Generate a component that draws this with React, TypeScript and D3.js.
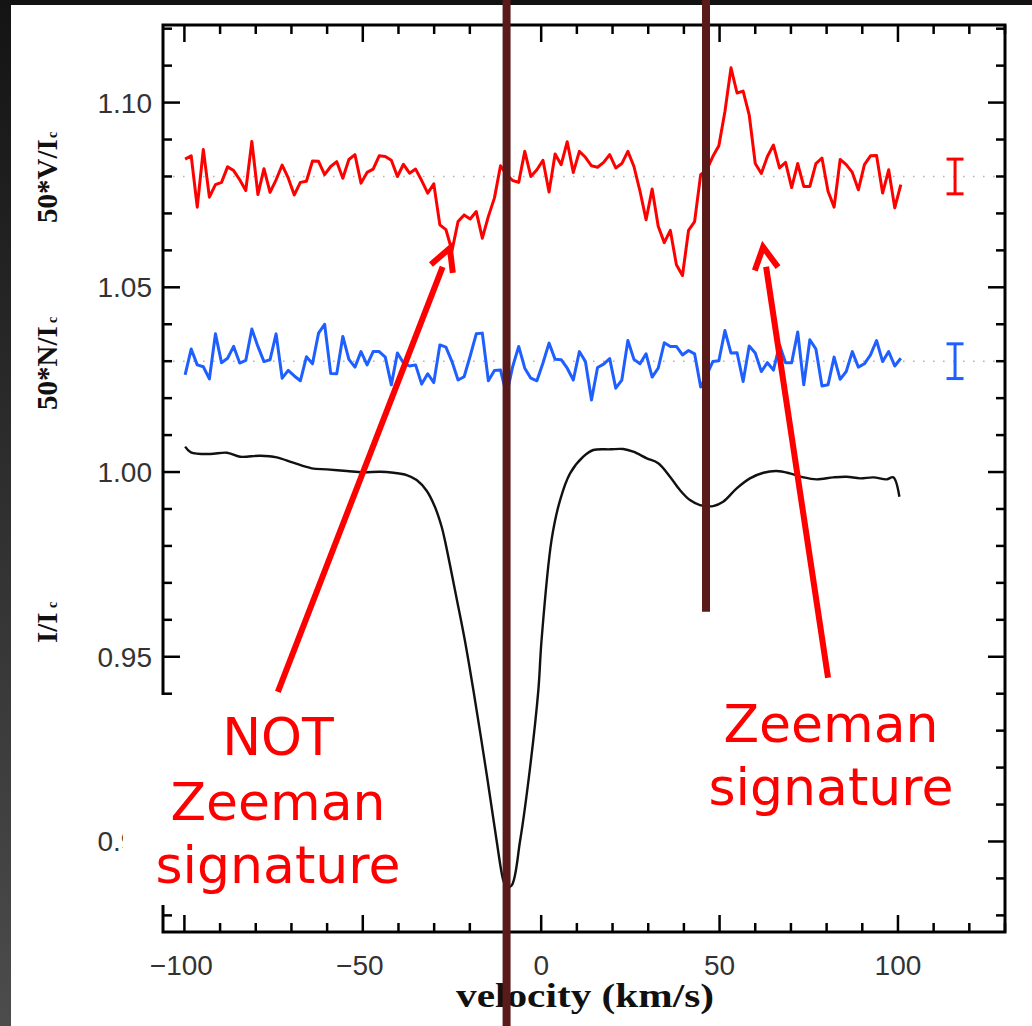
import React from "react";
import * as d3 from "d3";

// ---------- data ----------
const velocity = [
  -99.8, -98.1, -96.4, -94.7, -93.0, -91.3, -89.6, -87.9, -86.2, -84.5,
  -82.8, -81.1, -79.4, -77.7, -76.0, -74.3, -72.6, -70.9, -69.2, -67.5,
  -65.8, -64.1, -62.4, -60.7, -59.0, -57.3, -55.6, -53.9, -52.2, -50.5,
  -48.8, -47.1, -45.4, -43.7, -42.0, -40.3, -38.6, -36.9, -35.2, -33.5,
  -31.8, -30.1, -28.4, -26.7, -25.0, -23.3, -21.6, -19.9, -18.2, -16.5,
  -14.8, -13.1, -11.4, -9.7, -8.0, -6.3, -4.6, -2.9, -1.2, 0.5,
  2.2, 3.9, 5.6, 7.3, 9.0, 10.7, 12.4, 14.1, 15.8, 17.5,
  19.2, 20.9, 22.6, 24.3, 26.0, 27.7, 29.4, 31.1, 32.8, 34.5,
  36.2, 37.9, 39.6, 41.3, 43.0, 44.7, 46.4, 48.1, 49.8, 51.5,
  53.2, 54.9, 56.6, 58.3, 60.0, 61.7, 63.4, 65.1, 66.8, 68.5,
  70.2, 71.9, 73.6, 75.3, 77.0, 78.7, 80.4, 82.1, 83.8, 85.5,
  87.2, 88.9, 90.6, 92.3, 94.0, 95.7, 97.4, 99.1, 100.8,
];

// 50*V/Ic shifted to 1.08
const stokesV = [
  1.0847, 1.0856, 1.0717, 1.0873, 1.0744, 1.0778, 1.0784, 1.0826, 1.0816, 1.0791,
  1.0762, 1.0895, 1.0751, 1.0821, 1.0757, 1.0791, 1.0831, 1.0796, 1.0750, 1.0784,
  1.0787, 1.0842, 1.0841, 1.0805, 1.0827, 1.0840, 1.0795, 1.0846, 1.0859, 1.0782,
  1.0811, 1.0820, 1.0856, 1.0854, 1.0844, 1.0800, 1.0833, 1.0809, 1.0820, 1.0789,
  1.0755, 1.0780, 1.0669, 1.0656, 1.0599, 1.0678, 1.0696, 1.0685, 1.0705, 1.0633,
  1.0692, 1.0742, 1.0829, 1.0805, 1.0789, 1.0784, 1.0868, 1.0800, 1.0818, 1.0844,
  1.0758, 1.0861, 1.0832, 1.0894, 1.0811, 1.0868, 1.0852, 1.0829, 1.0825, 1.0838,
  1.0859, 1.0823, 1.0835, 1.0868, 1.0827, 1.0760, 1.0683, 1.0766, 1.0665, 1.0621,
  1.0654, 1.0561, 1.0532, 1.0654, 1.0678, 1.0805, 1.0818, 1.0854, 1.0883, 1.0976,
  1.1094, 1.1026, 1.1031, 1.0967, 1.0835, 1.0808, 1.0854, 1.0885, 1.0823, 1.0838,
  1.0770, 1.0835, 1.0773, 1.0773, 1.0835, 1.0850, 1.0760, 1.0717, 1.0846, 1.0832,
  1.0811, 1.0764, 1.0832, 1.0856, 1.0857, 1.0755, 1.0818, 1.0715, 1.0778,
];

// 50*N/Ic shifted to 1.03
const nullN = [
  1.0263, 1.0333, 1.0290, 1.0285, 1.0252, 1.0374, 1.0296, 1.0308, 1.0340, 1.0295,
  1.0302, 1.0387, 1.0340, 1.0299, 1.0304, 1.0374, 1.0254, 1.0275, 1.0260, 1.0247,
  1.0312, 1.0293, 1.0376, 1.0400, 1.0267, 1.0266, 1.0367, 1.0305, 1.0284, 1.0326,
  1.0290, 1.0326, 1.0326, 1.0311, 1.0236, 1.0322, 1.0295, 1.0287, 1.0290, 1.0238,
  1.0266, 1.0242, 1.0344, 1.0338, 1.0299, 1.0249, 1.0258, 1.0314, 1.0374, 1.0376,
  1.0247, 1.0275, 1.0276, 1.0209, 1.0285, 1.0340, 1.0281, 1.0254, 1.0247, 1.0295,
  1.0349, 1.0305, 1.0304, 1.0281, 1.0249, 1.0326, 1.0299, 1.0195, 1.0283, 1.0292,
  1.0307, 1.0227, 1.0249, 1.0356, 1.0305, 1.0293, 1.0320, 1.0257, 1.0281, 1.0350,
  1.0340, 1.0340, 1.0317, 1.0329, 1.0320, 1.0230, 1.0263, 1.0299, 1.0301, 1.0383,
  1.0322, 1.0323, 1.0245, 1.0341, 1.0322, 1.0272, 1.0296, 1.0276, 1.0344, 1.0296,
  1.0296, 1.0379, 1.0236, 1.0358, 1.0333, 1.0233, 1.0236, 1.0311, 1.0251, 1.0272,
  1.0326, 1.0284, 1.0293, 1.0317, 1.0356, 1.0299, 1.0326, 1.0287, 1.0308,
];

// Stokes I / Ic
const intensityVel = [
  -99.8, -98.2, -92.8, -88.1, -84.4, -78.8, -74.1, -69.5, -64.3, -60.1,
  -54.5, -49.9, -45.2, -41.4, -37.7, -34.9, -32.1, -29.8, -27.9, -27.0,
  -23.6, -21.4, -19.0, -15.3, -12.5, -10.6, -9.7, -8.3, -5.9, -3.1,
  -0.8, 0.1, 2.9, 5.3, 8.1, 11.8, 14.6, 19.3, 23.0, 25.8,
  29.6, 32.8, 36.1, 38.9, 41.7, 44.5, 48.2, 51.0, 54.8, 58.5,
  62.3, 66.0, 69.7, 73.5, 77.2, 81.9, 85.6, 89.4, 93.1, 96.8,
  98.7, 100.4,
];
const intensity = [
  1.00686, 1.00534, 1.00488, 1.00523, 1.00415, 1.00442, 1.00398, 1.00252, 1.00100, 1.00073,
  1.00027, 0.99992, 1.00008, 0.99981, 0.99919, 0.99783, 0.99493, 0.99060, 0.98518, 0.98157,
  0.96531, 0.95447, 0.94092, 0.91835, 0.90027, 0.88943, 0.88762, 0.88808, 0.90027, 0.92014,
  0.94092, 0.95447, 0.98157, 0.99241, 0.99965, 1.00415, 1.00596, 1.00615, 1.00623, 1.00550,
  1.00371, 1.00236, 0.99873, 0.99512, 0.99241, 0.99106, 0.99079, 0.99195, 0.99558, 0.99829,
  0.99981, 1.00027, 0.99965, 0.99856, 0.99802, 0.99856, 0.99873, 0.99829, 0.99856, 0.99802,
  0.99856, 0.99331,
];

const zeroLevels = [1.08, 1.03];
const errorBarVelocity = 116;
const errorBarHalf = 0.0047;

const xMajorTicks = [-100, -50, 0, 50, 100];
const xMajorLabels = ["\u2212100", "\u221250", "0", "50", "100"];
const yMajorTicks = [0.9, 0.95, 1.0, 1.05, 1.1];
const yMajorLabels = ["0.90", "0.95", "1.00", "1.05", "1.10"];

const markerVelocities = [-9.7, 46.2];

// ---------- layout ----------
const W = 1032;
const H = 1026;
const F = { left: 163, right: 1005, top: 25, bottom: 932 };
const X_DOMAIN = [-106, 130];
const Y_DOMAIN = [0.8755, 1.121];

const xScale = d3.scaleLinear().domain(X_DOMAIN).range([F.left, F.right]);
const yScale = d3.scaleLinear().domain(Y_DOMAIN).range([F.bottom, F.top]);

const xMinor = d3.range(-100, 131, 10);
const yMinor = d3.range(88, 113).map((d) => d / 100);

const RED = "#ff0000";
const BLUE = "#1f5fff";
const MAROON = "#5a1a1a";

function arrowPath(tail: [number, number], tip: [number, number]) {
  const dx = tip[0] - tail[0];
  const dy = tip[1] - tail[1];
  const len = Math.hypot(dx, dy);
  const ux = dx / len;
  const uy = dy / len;
  const wing = 25;
  const ang = (28 * Math.PI) / 180;
  const bx = -ux;
  const by = -uy;
  const w1 = [
    tip[0] + wing * (bx * Math.cos(ang) - by * Math.sin(ang)),
    tip[1] + wing * (bx * Math.sin(ang) + by * Math.cos(ang)),
  ];
  const w2 = [
    tip[0] + wing * (bx * Math.cos(-ang) - by * Math.sin(-ang)),
    tip[1] + wing * (bx * Math.sin(-ang) + by * Math.cos(-ang)),
  ];
  const shaftEnd = [tip[0] - ux * 20, tip[1] - uy * 20];
  return {
    shaft: `M${tail[0]},${tail[1]}L${shaftEnd[0]},${shaftEnd[1]}`,
    head: `M${w1[0]},${w1[1]}L${tip[0]},${tip[1]}L${w2[0]},${w2[1]}`,
  };
}

const arrows = [
  { tail: [-73.8, 0.9405], tip: [-25.6, 1.0606] },
  { tail: [80.4, 0.9443], tip: [62.2, 1.0609] },
];

export default function App() {
  const line = d3
    .line<[number, number]>()
    .x((d) => xScale(d[0]))
    .y((d) => yScale(d[1]));
  const smooth = d3
    .line<[number, number]>()
    .x((d) => xScale(d[0]))
    .y((d) => yScale(d[1]))
    .curve(d3.curveCatmullRom.alpha(0.5));

  const vPts = velocity.map((v, i) => [v, stokesV[i]] as [number, number]);
  const nPts = velocity.map((v, i) => [v, nullN[i]] as [number, number]);
  const iPts = intensityVel.map((v, i) => [v, intensity[i]] as [number, number]);

  const tickStroke = 2.5;
  const major = 17;
  const minor = 9;

  return (
    <svg
      width={W}
      height={H}
      style={{ position: "absolute", left: 0, top: 0, background: "#ffffff" }}
    >
      <defs>
        <linearGradient id="leftStrip" x1="0" y1="0" x2="0" y2="1">
          <stop offset="0" stopColor="#141414" />
          <stop offset="1" stopColor="#4c4c4c" />
        </linearGradient>
      </defs>
      <rect x={0} y={0} width={W} height={H} fill="#ffffff" />
      <rect x={0} y={0} width={W} height={5} fill="#121212" />
      <rect x={0} y={0} width={11} height={H} fill="url(#leftStrip)" />

      {/* zero-level dotted lines */}
      {zeroLevels.map((z) => (
        <line
          key={z}
          x1={F.left}
          x2={F.right}
          y1={yScale(z)}
          y2={yScale(z)}
          stroke="#b4b4b4"
          strokeWidth={1.6}
          strokeDasharray="1.6 8.4"
        />
      ))}

      {/* frame */}
      <rect
        x={F.left}
        y={F.top}
        width={F.right - F.left}
        height={F.bottom - F.top}
        fill="none"
        stroke="#000"
        strokeWidth={3}
      />
      {/* x ticks */}
      {xMinor.map((t) => {
        const x = xScale(t);
        const len = t % 50 === 0 ? major : minor;
        return (
          <g key={"xt" + t} stroke="#000" strokeWidth={tickStroke}>
            <line x1={x} x2={x} y1={F.bottom} y2={F.bottom - len} />
            <line x1={x} x2={x} y1={F.top} y2={F.top + len} />
          </g>
        );
      })}
      {/* y ticks */}
      {yMinor.map((t) => {
        const y = yScale(t);
        const isMajor = Math.round(t * 100) % 5 === 0;
        const len = isMajor ? major : minor;
        return (
          <g key={"yt" + t} stroke="#000" strokeWidth={tickStroke}>
            <line x1={F.left} x2={F.left + len} y1={y} y2={y} />
            <line x1={F.right} x2={F.right - len} y1={y} y2={y} />
          </g>
        );
      })}

      {/* tick labels */}
      {xMajorTicks.map((t, i) => (
        <text
          key={"xl" + t}
          x={xScale(t) - (t < 0 ? 3 : 0)}
          y={975}
          textAnchor="middle"
          fontFamily="Liberation Sans, Arial, sans-serif"
          fontSize={28}
          fill="#333"
        >
          {xMajorLabels[i]}
        </text>
      ))}
      {yMajorTicks.map((t, i) => (
        <text
          key={"yl" + t}
          x={152}
          y={yScale(t) + 10}
          textAnchor="end"
          fontFamily="Liberation Sans, Arial, sans-serif"
          fontSize={28}
          fill="#333"
        >
          {yMajorLabels[i]}
        </text>
      ))}

      {/* axis titles */}
      <g fontFamily="Liberation Serif, Times New Roman, serif" fontWeight="bold" fill="#111">
        <g transform="translate(57,223) rotate(-90)">
          <text x={0} y={0} fontSize={29}>50*V/I</text>
          <text x={85} y={0} fontSize={14}>c</text>
        </g>
        <g transform="translate(57,410) rotate(-90)">
          <text x={0} y={0} fontSize={29}>50*N/I</text>
          <text x={87} y={0} fontSize={14}>c</text>
        </g>
        <g transform="translate(57,643) rotate(-90)">
          <text x={0} y={0} fontSize={29}>I/I</text>
          <text x={35} y={0} fontSize={14}>c</text>
        </g>
        <text
          x={456}
          y={1007}
          fontSize={33}
          textLength={258}
          lengthAdjust="spacingAndGlyphs"
        >
          velocity (km/s)
        </text>
      </g>

      {/* data */}
      <path d={line(nPts) || ""} fill="none" stroke={BLUE} strokeWidth={3} strokeLinejoin="round" />
      <path d={line(vPts) || ""} fill="none" stroke={RED} strokeWidth={3} strokeLinejoin="round" />
      <path d={smooth(iPts) || ""} fill="none" stroke="#111" strokeWidth={2.4} strokeLinejoin="round" />

      {/* error bars */}
      {[
        { z: zeroLevels[0], c: RED },
        { z: zeroLevels[1], c: BLUE },
      ].map(({ z, c }) => {
        const x = xScale(errorBarVelocity);
        const y1 = yScale(z + errorBarHalf);
        const y2 = yScale(z - errorBarHalf);
        return (
          <g key={"eb" + z} stroke={c} strokeWidth={3}>
            <line x1={x} x2={x} y1={y1} y2={y2} />
            <line x1={x - 8.5} x2={x + 8.5} y1={y1} y2={y1} />
            <line x1={x - 8.5} x2={x + 8.5} y1={y2} y2={y2} />
          </g>
        );
      })}

      {/* annotation white box */}
      <rect x={123} y={695} width={300} height={210} fill="#ffffff" />

      {/* annotation text */}
      <g fontFamily="DejaVu Sans, Verdana, sans-serif" fontSize={52} fill={RED} textAnchor="middle">
        <text x={278} y={755}>NOT</text>
        <text x={278} y={820}>Zeeman</text>
        <text x={278} y={883}>signature</text>
        <text x={831} y={742}>Zeeman</text>
        <text x={831} y={805}>signature</text>
      </g>

      {/* marker lines */}
      <line
        x1={xScale(markerVelocities[0])}
        x2={xScale(markerVelocities[0])}
        y1={0}
        y2={H}
        stroke={MAROON}
        strokeWidth={8}
      />
      <line
        x1={xScale(markerVelocities[1])}
        x2={xScale(markerVelocities[1])}
        y1={0}
        y2={yScale(0.9622)}
        stroke={MAROON}
        strokeWidth={8}
      />

      {/* arrows */}
      {arrows.map((a, i) => {
        const p = arrowPath(
          [xScale(a.tail[0]), yScale(a.tail[1])],
          [xScale(a.tip[0]), yScale(a.tip[1])]
        );
        return (
          <g key={"ar" + i} fill="none" stroke={RED} strokeWidth={6}>
            <path d={p.shaft} />
            <path d={p.head} strokeLinejoin="miter" />
          </g>
        );
      })}
    </svg>
  );
}
